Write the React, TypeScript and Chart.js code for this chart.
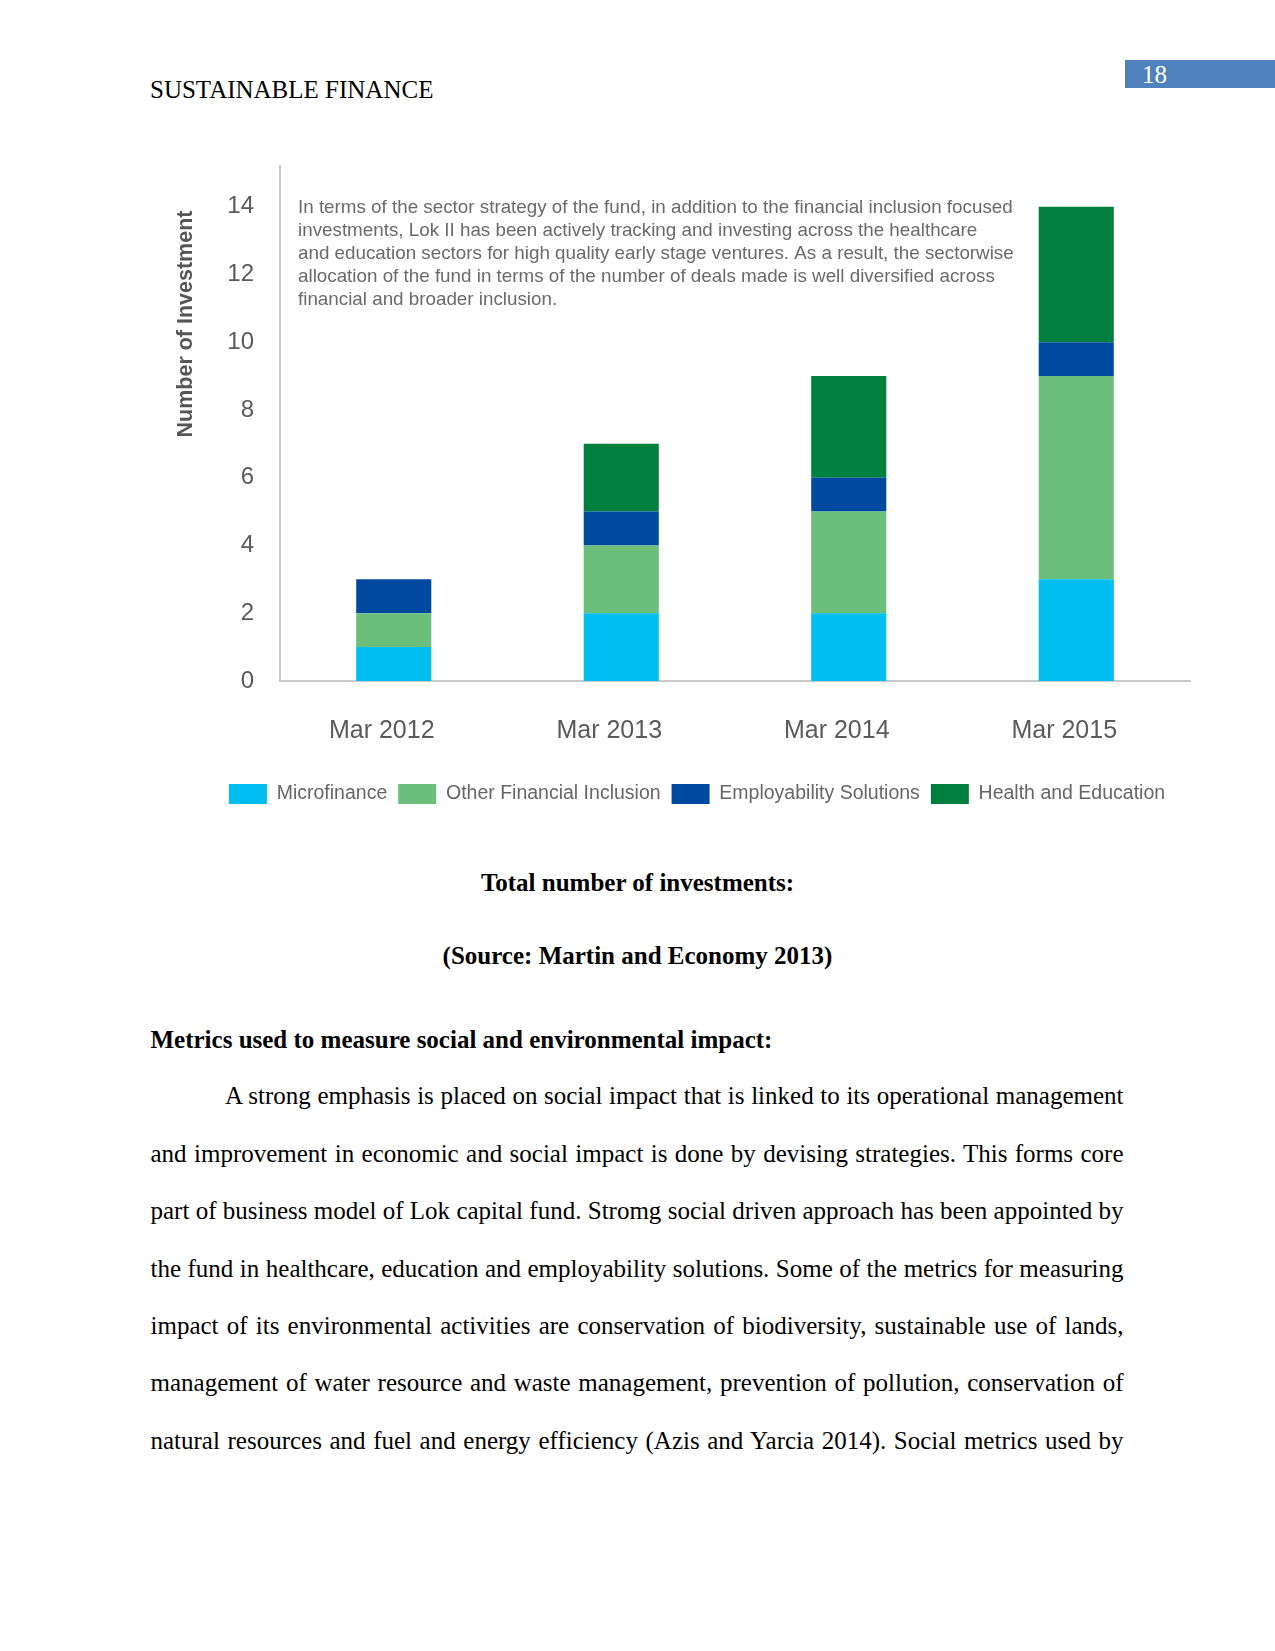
import React, { useEffect, useRef } from 'react';
import { Chart, registerables } from 'chart.js';

Chart.register(...registerables);

// ---- chart data ----
const categories = ['Mar 2012', 'Mar 2013', 'Mar 2014', 'Mar 2015'];
const microfinance = [1, 2, 2, 3];
const otherFinancialInclusion = [1, 2, 3, 6];
const employabilitySolutions = [1, 1, 1, 1];
const healthAndEducation = [0, 2, 3, 4];
const seriesNames = ['Microfinance', 'Other Financial Inclusion', 'Employability Solutions', 'Health and Education'];
const seriesColors = ['#00BFF0', '#6BBF7B', '#0049A0', '#007F3F'];
const yMin = 0;
const yMax = 15.2;
const yTickStep = 2;
const yAxisTitle = 'Number of Investment';
const noteLines = [
  'In terms of the sector strategy of the fund, in addition to the financial inclusion focused',
  'investments, Lok II has been actively tracking and investing across the healthcare',
  'and education sectors for high quality early stage ventures. As a result, the sectorwise',
  'allocation of the fund in terms of the number of deals made is well diversified across',
  'financial and broader inclusion.',
];

// ---- page text ----
const headerText = 'SUSTAINABLE FINANCE';
const pageNumber = '18';
const captionText = 'Total number of investments:';
const sourceText = '(Source: Martin and Economy 2013)';
const headingText = 'Metrics used to measure social and environmental impact:';
const paragraphLines = [
  'A strong emphasis is placed on social impact that is linked to its operational management',
  'and improvement in economic and social impact is done by devising strategies. This forms core',
  'part of business model of Lok capital fund. Stromg social driven approach has been appointed by',
  'the fund in healthcare, education and employability solutions. Some of the metrics for measuring',
  'impact of its environmental activities are conservation of biodiversity, sustainable use of lands,',
  'management of water resource and waste management, prevention of pollution, conservation of',
  'natural resources and fuel and energy efficiency (Azis and Yarcia 2014). Social metrics used by',
];

const sans = '"Liberation Sans", Arial, Helvetica, sans-serif';
const serif = '"Liberation Serif", "Times New Roman", Times, serif';

function InvestmentChart() {
  const ref = useRef<HTMLCanvasElement>(null);

  useEffect(() => {
    const canvas = ref.current;
    if (!canvas) return;

    const notePlugin = {
      id: 'noteAndTitle',
      afterDraw(chart: any) {
        const { ctx, chartArea } = chart;
        ctx.save();
        ctx.font = `16px ${sans}`;
        const w = ctx.measureText(noteLines[0]).width;
        const size = (16 * 715) / w;
        ctx.font = `${size}px ${sans}`;
        ctx.fillStyle = '#6a6a6a';
        ctx.textAlign = 'left';
        ctx.textBaseline = 'middle';
        noteLines.forEach((line, i) => {
          ctx.fillText(line, chartArea.left + 18, chartArea.top + 41.4 + i * 23.15);
        });
        ctx.translate(chartArea.left - 94, chartArea.top + 158);
        ctx.rotate(-Math.PI / 2);
        ctx.font = `bold 21.5px ${sans}`;
        ctx.fillStyle = '#555555';
        ctx.textAlign = 'center';
        ctx.textBaseline = 'middle';
        ctx.fillText(yAxisTitle, 0, 0);
        ctx.restore();
      },
    };

    const seriesValues = [microfinance, otherFinancialInclusion, employabilitySolutions, healthAndEducation];

    const chart = new Chart(canvas, {
      type: 'bar',
      data: {
        labels: categories,
        datasets: seriesValues.map((vals, i) => ({
          label: seriesNames[i],
          data: vals,
          backgroundColor: seriesColors[i],
          borderWidth: 0,
          xAxisID: 'x',
          yAxisID: 'y',
          categoryPercentage: 1,
          barPercentage: 0.33,
        })),
      },
      options: {
        responsive: false,
        animation: false,
        devicePixelRatio: 1,
        layout: { padding: { top: 16, left: 0, right: 0, bottom: 0 } },
        scales: {
          x: {
            stacked: true,
            grid: { display: false },
            border: { display: true, color: '#c8c8c8', width: 2 },
            ticks: {
              padding: 27,
              labelOffset: -12,
              color: '#5a5a5a',
              font: { size: 25, family: sans },
            },
            afterFit: (s: any) => {
              s.height = 92;
            },
          },
          y: {
            type: 'linear',
            position: 'left',
            stacked: true,
            min: yMin,
            max: yMax,
            grid: { display: false },
            border: { display: true, color: '#c8c8c8', width: 2 },
            ticks: {
              stepSize: yTickStep,
              includeBounds: false,
              padding: 18,
              color: '#5a5a5a',
              font: { size: 24, family: sans },
            },
            afterFit: (s: any) => {
              s.width = 130;
              s.paddingTop = 0;
              s.paddingBottom = 0;
            },
          },
          yPad: {
            type: 'linear',
            position: 'right',
            display: true,
            grid: { display: false },
            border: { display: false },
            ticks: { display: false },
            afterFit: (s: any) => {
              s.width = 54;
              s.paddingTop = 0;
              s.paddingBottom = 0;
            },
          },
        },
        plugins: {
          tooltip: { enabled: false },
          title: { display: false },
          legend: {
            display: true,
            position: 'bottom',
            align: 'center',
            labels: {
              boxWidth: 38,
              boxHeight: 20,
              padding: 11,
              color: '#666666',
              font: { size: 19.5, family: sans },
            },
          },
        },
      },
      plugins: [notePlugin],
    } as any);

    return () => chart.destroy();
  }, []);

  return (
    <canvas
      ref={ref}
      width={1094}
      height={664}
      style={{ position: 'absolute', left: 150, top: 150, width: 1094, height: 664 }}
    />
  );
}

export default function App() {
  const lineH = 57.4;
  const paraTop = 1067.4;
  return (
    <div style={{ position: 'absolute', left: 0, top: 0, width: 1275, height: 1651, background: '#fff', fontFamily: serif, color: '#000' }}>
      <div style={{ position: 'absolute', left: 150, top: 77, fontSize: 25, lineHeight: '25px', whiteSpace: 'nowrap' }}>
        {headerText}
      </div>
      <div style={{ position: 'absolute', left: 1125, top: 60, width: 150, height: 28, background: '#4F81BD' }} />
      <div style={{ position: 'absolute', left: 1142, top: 62, fontSize: 25, lineHeight: '25px', color: '#fff' }}>
        {pageNumber}
      </div>

      <InvestmentChart />

      <div style={{ position: 'absolute', left: 150, width: 975, top: 869.6, textAlign: 'center', fontWeight: 'bold', fontSize: 25, lineHeight: '25px' }}>
        {captionText}
      </div>
      <div style={{ position: 'absolute', left: 150, width: 975, top: 943, textAlign: 'center', fontWeight: 'bold', fontSize: 25, lineHeight: '25px' }}>
        {sourceText}
      </div>
      <div style={{ position: 'absolute', left: 150.5, top: 1026.6, fontWeight: 'bold', fontSize: 25, lineHeight: '25px', whiteSpace: 'nowrap' }}>
        {headingText}
      </div>
      {paragraphLines.map((line, i) => (
        <div
          key={i}
          style={{
            position: 'absolute',
            left: i === 0 ? 225 : 150.5,
            width: i === 0 ? 898.5 : 973,
            top: paraTop + i * lineH,
            height: lineH,
            fontSize: 25,
            lineHeight: `${lineH}px`,
            textAlign: 'justify',
            textAlignLast: 'justify' as any,
          }}
        >
          {line}
        </div>
      ))}
    </div>
  );
}
